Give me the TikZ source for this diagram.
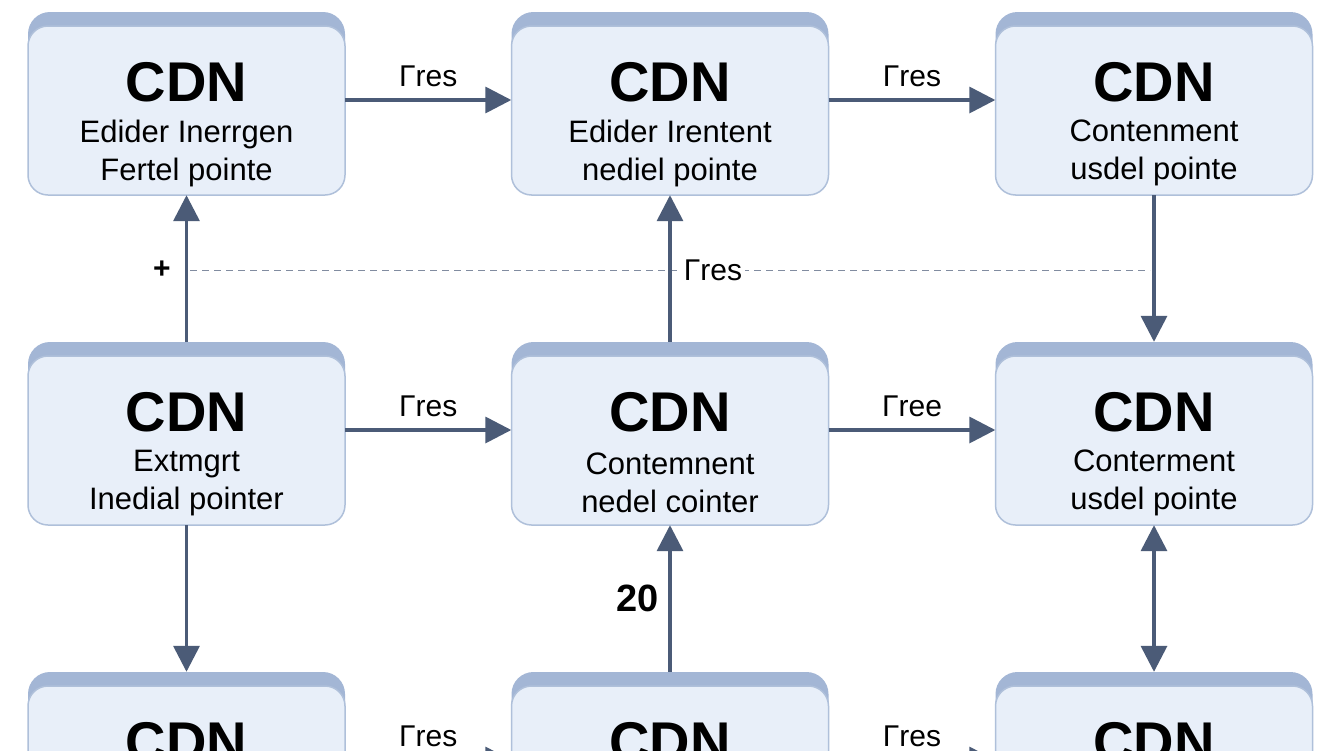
\documentclass[tikz,border=0pt]{standalone}
\usepackage{fontspec}
\setmainfont{Liberation Sans}
\usetikzlibrary{arrows.meta}
\definecolor{band}{HTML}{A3B6D5}
\definecolor{boxfill}{HTML}{E8EFF9}
\definecolor{boxline}{HTML}{AFC0DA}
\definecolor{arr}{HTML}{4B5B77}
\begin{document}
\begin{tikzpicture}[x=1pt,y=-1pt,
  box/.style={minimum width=317pt,minimum height=183pt,inner sep=0pt},
  con/.style={draw=arr,line width=3.5pt,-{Triangle[length=26pt,width=26pt]}},
  lab/.style={font=\fontsize{30}{30}\selectfont,text=black}]
\useasboundingbox (0,0) rectangle (1344,750);
\clip (0,0) rectangle (1344,750);
\fill[white] (0,0) rectangle (1344,750);
\newcommand{\cdnbox}[5]{%
  \fill[band,rounded corners=22pt] (#2-158.5,#3) rectangle (#2+158.5,#3+183);
  \filldraw[fill=boxfill,draw=boxline,line width=1.5pt,rounded corners=20pt] (#2-158.5,#3+14) rectangle (#2+158.5,#3+183);
  \node[box] (#1) at (#2,#3+91.5) {};
  \node[font=\fontsize{56}{56}\selectfont\bfseries] at (#2,#3+70) {CDN};
  \node[lab,align=center,font=\fontsize{31}{38}\selectfont] at (#2,#3+141) {#4\\#5};
}
\cdnbox{a1}{186.5}{12}{Edider Inerrgen}{Fertel pointe}
\cdnbox{a2}{670}{12}{Edider Irentent}{nediel pointe}
\cdnbox{a3}{1154}{12}{Contenment}{usdel pointe}
\cdnbox{b1}{186.5}{342}{Extmgrt}{Inedial pointer}
\cdnbox{b2}{670}{342}{Contemnent}{nedel cointer}
\cdnbox{b3}{1154}{342}{Conterment}{usdel pointe}
\cdnbox{c1}{186.5}{672}{}{}
\cdnbox{c2}{670}{672}{}{}
\cdnbox{c3}{1154}{672}{}{}
% dashed line
\coordinate (d1) at (190,270);
\coordinate (d2) at (1150,270);
\draw[arr!70,line width=1pt,dash pattern=on 7pt off 5pt] (d1) -- (d2);
\node[font=\fontsize{30}{30}\selectfont\bfseries] (plus) at (162,270) {+};
% horizontal
\draw[con] (a1.east |- 0,100) -- (a2.west |- 0,100) node[lab,midway,above=8pt] {Γres};
\draw[con] (a2.east |- 0,100) -- (a3.west |- 0,100) node[lab,midway,above=8pt] {Γres};
\draw[con] (b1.east |- 0,430) -- (b2.west |- 0,430) node[lab,midway,above=8pt] {Γres};
\draw[con] (b2.east |- 0,430) -- (b3.west |- 0,430) node[lab,midway,above=8pt] {Γree};
\draw[con] (c1.east |- 0,760) -- (c2.west |- 0,760) node[lab,midway,above=8pt] {Γres};
\draw[con] (c2.east |- 0,760) -- (c3.west |- 0,760) node[lab,midway,above=8pt] {Γres};
% vertical
\draw[con] (b1.north) -- (a1.south);
\draw[con] (b2.north) -- (a2.south);
\node[lab,fill=white,inner sep=3pt] at (713,270) {Γres};
\draw[con] (a3.south) -- (b3.north);
\draw[con] (b1.south) -- (c1.north);
\draw[con] (c2.north) -- (b2.south) node[midway,left=6pt,font=\fontsize{38}{38}\selectfont\bfseries] {20};
\draw[con,{Triangle[length=26pt,width=26pt]}-{Triangle[length=26pt,width=26pt]}] (b3.south) -- (c3.north);
\end{tikzpicture}
\end{document}
